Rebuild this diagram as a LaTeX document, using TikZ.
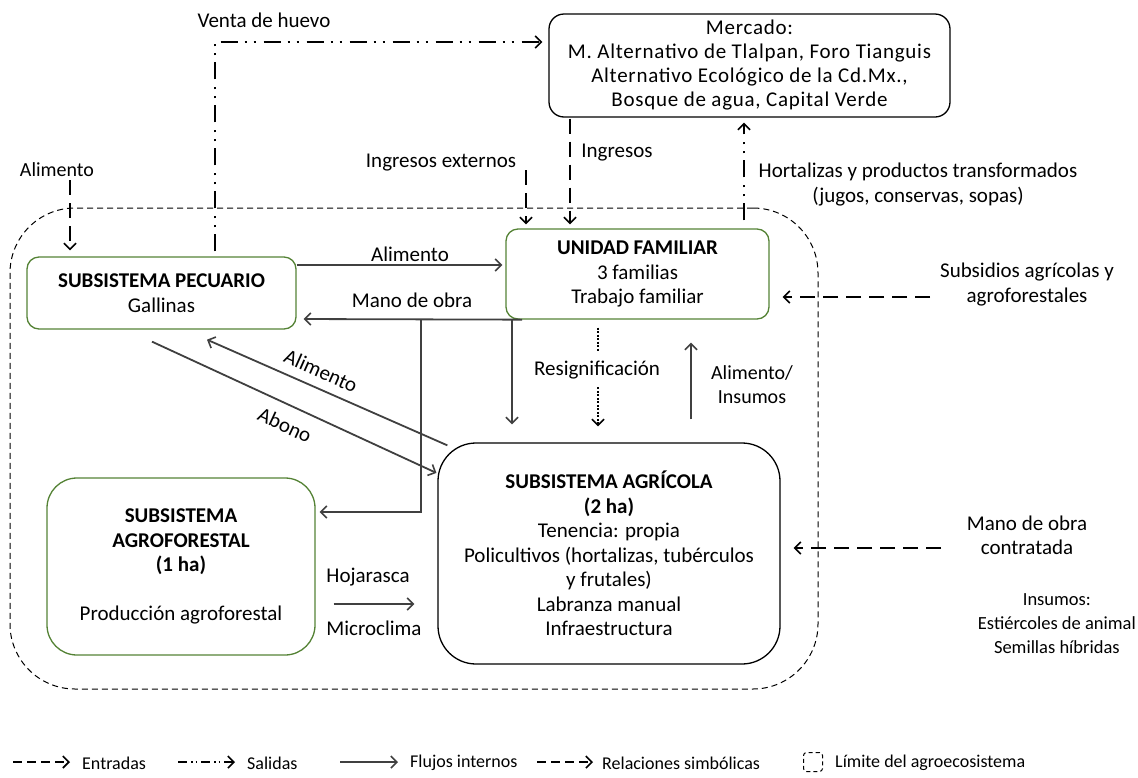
\documentclass[tikz,border=0pt]{standalone}
\usepackage{fontspec}
\setmainfont{Carlito}
\newfontfamily\spacedfont[LetterSpace=3.5]{Carlito}
\usetikzlibrary{arrows.meta}
\definecolor{boxgreen}{RGB}{84,130,53}
\definecolor{flowgray}{RGB}{64,64,64}
\tikzset{
  txt/.style={font=\fontsize{21}{24.5}\selectfont, align=center, inner sep=0pt},
  smalltxt/.style={txt, font=\fontsize{18.5}{24}\selectfont},
  legtxt/.style={font=\fontsize{18}{21}\selectfont, anchor=west, inner sep=0pt},
  subbox/.style={txt, draw=boxgreen, line width=1.3pt, rounded corners=12pt},
  plainbox/.style={txt, draw=black, line width=1.3pt, rounded corners=15pt},
  barb/.style={-{Straight Barb[length=6pt,width=12pt,line width=1.6pt]}},
  inflow/.style={barb, draw=black, line width=1.8pt, dash pattern=on 15pt off 8pt},
  outflow/.style={barb, draw=black, line width=1.6pt,
    dash pattern=on 17pt off 7pt on 2pt off 7pt on 2pt off 8pt},
  flow/.style={barb, draw=flowgray, line width=1.8pt},
  symline/.style={draw=black, line width=1.6pt, dash pattern=on 2pt off 1.5pt},
  symflow/.style={barb, symline},
  limit/.style={draw=black, line width=1pt, dash pattern=on 6pt off 4pt},
}
\begin{document}
\begin{tikzpicture}[x=1pt,y=-1pt]
\useasboundingbox (0,0) rectangle (1138,777);

% agroecosystem boundary
\node[limit, rounded corners=65pt, minimum width=808pt, minimum height=481pt, inner sep=0pt]
  (lim) at (414,448.5) {};

% boxes
\node[plainbox, font=\spacedfont\fontsize{21}{24}\selectfont, minimum width=401pt, minimum height=103pt] (mkt) at (749.5,65.5)
  {Mercado:\\M. Alternativo de Tlalpan, Foro Tianguis\\Alternativo Ecológico de la Cd.Mx.,\\Bosque de agua, Capital Verde};
\node[subbox, minimum width=269pt, minimum height=72pt] (pec) at (161.5,293)
  {\textbf{SUBSISTEMA PECUARIO}\\Gallinas};
\node[subbox, minimum width=263pt, minimum height=90pt] (uf) at (637.5,274)
  {\textbf{UNIDAD FAMILIAR}\\3 familias\\Trabajo familiar};
\node[plainbox, rounded corners=38pt, minimum width=342pt, minimum height=221pt] (agr) at (609,553.5)
  {\textbf{SUBSISTEMA AGRÍCOLA}\\\textbf{(2 ha)}\\Tenencia: propia\\Policultivos (hortalizas, tubérculos\\y frutales)\\Labranza manual\\Infraestructura};
\node[subbox, rounded corners=30pt, minimum width=268pt, minimum height=177pt] (agf) at (181,566.5)
  {\textbf{SUBSISTEMA}\\\textbf{AGROFORESTAL}\\\textbf{(1 ha)}\\[24.5pt]Producción agroforestal};

% external labels
\node[txt, font=\fontsize{20}{24}\selectfont] (lAlimIn) at (57,170) {Alimento};
\node[txt] (lVenta) at (264,20) {Venta de huevo};
\node[txt] (lIngExt) at (441,163) {Ingresos externos};
\node[txt] (lIng) at (617,153) {Ingresos};
\node[txt] (lHort) at (918,184.5) {Hortalizas y productos transformados\\(jugos, conservas, sopas)};
\node[txt] (lSubs) at (1027,284.5) {Subsidios agrícolas y\\agroforestales};
\node[txt] (lMano) at (1027,535.5) {Mano de obra\\contratada};
\node[smalltxt, anchor=east] (lIns) at (1136,624) {Insumos:\\Estiércoles de animal\\Semillas híbridas};

% internal labels
\node[txt] (lAlim1) at (410,254) {Alimento};
\node[txt] (lMO) at (412,300) {Mano de obra};
\node[txt] (lRes) at (597,370) {Resignificación};
\node[txt, font=\fontsize{20}{24.5}\selectfont] (lAI) at (752,384.5) {Alimento/\\Insumos};
\node[txt, rotate=-24] (lAlim2) at (321,371) {Alimento};
\node[txt, rotate=-25] (lAbono) at (285,425) {Abono};
\node[txt] (lHoj) at (368,577) {Hojarasca};
\node[txt] (lMic) at (374,628) {Microclima};

% free ends of the entry arrows
\coordinate (ingExtStart) at (526,170);
\coordinate (subsStart) at (930,297);
\coordinate (manoStart) at (941,548);
\coordinate (moBranch) at (421,319);

% entries
\draw[inflow, shorten <=3pt, shorten >=6pt] (lAlimIn.south -| 70,0) -- (pec.north -| 70,0);
\draw[inflow, shorten >=4pt] (ingExtStart) -- (uf.north -| 526,0);
\draw[inflow, shorten <=1pt, shorten >=4pt] (mkt.south -| 570,0) -- (uf.north -| 570,0);
\draw[inflow, shorten >=13pt] (subsStart) -- (uf.east |- subsStart);
\draw[inflow, shorten >=13pt] (manoStart) -- (agr.east |- manoStart);

% exits
\draw[outflow, shorten <=5pt, shorten >=6pt] (pec.north -| 215,0) |- (mkt.west |- 0,42);
\draw[outflow, shorten <=8pt, shorten >=5pt] (uf.north -| 744,0) -- (mkt.south -| 744,0);

% internal flows
\draw[flow, shorten >=3pt] (pec.east |- 0,265) -- (uf.west |- 0,265);
\draw[flow, shorten >=7pt] (uf.south -| 522,0) -- (pec.east |- 0,319);
\draw[flow, shorten >=4pt] (moBranch) |- (agf.east |- 0,512);
\draw[flow, shorten >=18pt] (uf.south -| 512,0) -- (agr.north -| 512,0);
\draw[flow, shorten <=23pt, shorten >=23pt] (agr.north -| 691,0) -- (uf.south -| 691,0);
\draw[flow] ([shift={(10pt,-3pt)}]agr.north west) -- ([shift={(45.5pt,-10pt)}]pec.south);
\draw[flow, shorten >=1pt] ([shift={(-9.5pt,-12pt)}]pec.south) -- ([yshift=-31pt]agr.north west);
\draw[flow, shorten <=18pt, shorten >=23pt] (agf.east |- 0,604) -- (agr.west |- 0,604);

% symbolic relation
\draw[symline, shorten <=8pt, shorten >=10pt] (uf.south -| 598,0) -- (lRes.north -| 598,0);
\draw[symflow, shorten <=8pt, shorten >=16pt] (lRes.south -| 598,0) -- (agr.north -| 598,0);

% legend
\coordinate (k1a) at (13,762);  \coordinate (k1b) at (70,762);
\coordinate (k2a) at (178,762); \coordinate (k2b) at (235,762);
\coordinate (k3a) at (340,762); \coordinate (k3b) at (398,762);
\coordinate (k4a) at (537,762); \coordinate (k4b) at (593,762);
\draw[barb, line width=1.3pt, dash pattern=on 9pt off 5pt] (k1a) -- (k1b);
\draw[barb, line width=1.3pt, dash pattern=on 9pt off 4pt on 1.5pt off 3pt on 1.5pt off 4pt] (k2a) -- (k2b);
\draw[barb, draw=flowgray, line width=1.3pt] (k3a) -- (k3b);
\draw[barb, line width=1.3pt, dash pattern=on 9pt off 5pt] (k4a) -- (k4b);
\node[draw, line width=1pt, dash pattern=on 4pt off 3pt, rounded corners=3pt, minimum size=19pt, inner sep=0pt] (legLim) at (813,762) {};
\node[legtxt] (t1) at (82,763) {Entradas};
\node[legtxt] (t2) at (247,763) {Salidas};
\node[legtxt] (t3) at (410,763) {Flujos internos};
\node[legtxt] (t4) at (602,763) {Relaciones simbólicas};
\node[legtxt] (t5) at (835,763) {Límite del agroecosistema};
\end{tikzpicture}
\end{document}
